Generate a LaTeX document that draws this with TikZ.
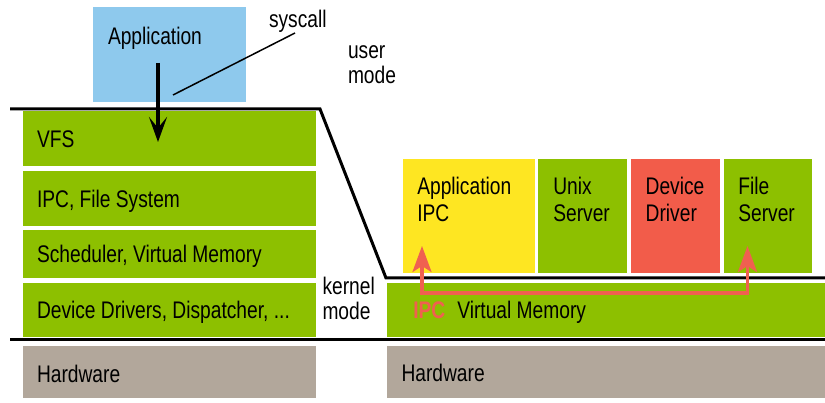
\documentclass[tikz,border=0pt]{standalone}
\usepackage{fontspec}
\setmainfont{Liberation Sans}[FakeStretch=0.80]
\usetikzlibrary{arrows.meta}
\definecolor{lgreen}{RGB}{141,192,0}
\definecolor{lblue}{RGB}{142,201,237}
\definecolor{lyellow}{RGB}{254,230,34}
\definecolor{lred}{RGB}{242,92,74}
\definecolor{lgray}{RGB}{178,167,155}
\definecolor{ipcred}{RGB}{240,96,80}
\tikzset{
  blk/.style={rectangle, inner sep=0pt, outer sep=0pt, draw=none},
  txt/.style={inner sep=0pt, outer sep=0pt, align=left,
    font=\fontsize{24}{26}\selectfont},
  lbl/.style={txt, anchor=base west},
  rule/.style={line width=3pt, line join=miter},
  redarr/.style={draw=ipcred, line width=3.2pt, {Stealth[length=26pt,width=19pt,inset=6pt]}-{Stealth[length=26pt,width=19pt,inset=6pt]}},
}
\begin{document}
\begin{tikzpicture}[x=1pt, y=-1pt]
\useasboundingbox (0,0) rectangle (825,403);

% user application
\node[blk, fill=lblue, minimum width=153pt, minimum height=95pt] (app) at (169.5,54.5) {};
\node[lbl] (apptxt) at (108,44.3) {Application};

% monolithic kernel layers
\node[blk, fill=lgreen, minimum width=293pt, minimum height=55pt] (vfs) at (169.5,138.5) {};
\node[blk, fill=lgreen, minimum width=293pt, minimum height=55pt] (ipcfs) at (169.5,198.5) {};
\node[blk, fill=lgreen, minimum width=293pt, minimum height=48pt] (sched) at (169.5,254) {};
\node[blk, fill=lgreen, minimum width=293pt, minimum height=54pt] (drv) at (169.5,310) {};
\node[blk, fill=lgray, minimum width=293pt, minimum height=52pt] (hwl) at (169.5,372) {};
\node[lbl] (vfstxt) at (37,148) {VFS};
\node[lbl] (ipcfstxt) at (37,207.5) {IPC, File System};
\node[lbl] (schedtxt) at (37,262.5) {Scheduler, Virtual Memory};
\node[lbl] (drvtxt) at (37,318.3) {Device Drivers, Dispatcher, ...};
\node[lbl] (hwltxt) at (37,382.5) {Hardware};

% microkernel side
\node[blk, fill=lgreen, minimum width=438pt, minimum height=54pt] (vm) at (606,310) {};
\node[blk, fill=lgray, minimum width=438pt, minimum height=52pt] (hwr) at (606,372) {};
\node[lbl] (vmtxt) at (413.3,318.3) {\textcolor{ipcred}{\bfseries IPC}\hspace{12pt}Virtual Memory};
\node[lbl] (hwrtxt) at (401.5,381.7) {Hardware};

\node[blk, fill=lyellow, minimum width=132pt, minimum height=114pt] (uapp) at (469,216) {};
\node[blk, fill=lgreen, minimum width=89pt, minimum height=114pt] (unix) at (582.5,216) {};
\node[blk, fill=lred, minimum width=89pt, minimum height=114pt] (ddrv) at (675.5,216) {};
\node[blk, fill=lgreen, minimum width=88pt, minimum height=114pt] (fsrv) at (768,216) {};
% two-line labels: the base anchor sits on the last line
\node[lbl, font=\fontsize{24}{26.7}\selectfont] (uapptxt) at (417.3,221.7) {Application\\IPC};
\node[lbl, font=\fontsize{24}{26.7}\selectfont] (unixtxt) at (553.3,221.7) {Unix\\Server};
\node[lbl, font=\fontsize{24}{26.7}\selectfont] (ddrvtxt) at (645.7,221.7) {Device\\Driver};
\node[lbl, font=\fontsize{24}{26.7}\selectfont] (fsrvtxt) at (738.3,221.7) {File\\Server};

% mode labels
\node[lbl, font=\fontsize{24}{25}\selectfont] (user) at (348,83.3) {user\\mode};
\node[lbl, font=\fontsize{24}{25}\selectfont] (kern) at (322.5,320) {kernel\\mode};
\node[lbl] (sys) at (269,27.3) {syscall};

% mode boundary lines
\coordinate (b1) at (10,109);
\coordinate (b2) at (320,109);
\coordinate (b3) at (386,278);
\coordinate (b4) at (825,278);
\draw[rule] (b1) -- (b2) -- (b3) -- (b4);
\coordinate (h1) at (10,340);
\coordinate (h2) at (825,340);
\draw[rule] (h1) -- (h2);

% system call
\coordinate (sysa) at (158,63);
\coordinate (sysb) at (158,142);
\draw[line width=3.3pt, -{Stealth[length=25pt,width=18pt,inset=11pt]}] (sysa) -- (sysb);
\coordinate (syst) at (173,95);
\coordinate (sysend) at (295,33);
\draw[line width=1.5pt] (syst) -- (sysend);

% IPC path through the microkernel
\coordinate (ipcl) at (422,246);
\coordinate (ipcr) at (747.5,246);
\draw[redarr] (ipcl) -- ++(0,47) -| (ipcr);
\end{tikzpicture}
\end{document}
